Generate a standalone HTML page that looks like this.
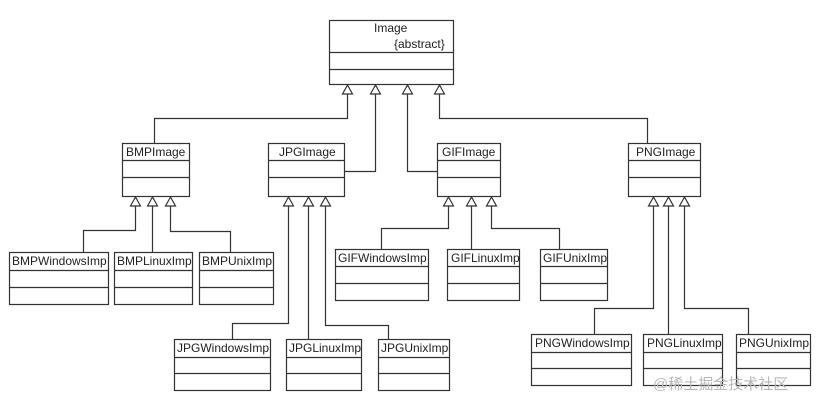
<!DOCTYPE html>
<html><head><meta charset="utf-8"><style>
html,body{margin:0;padding:0;background:#fff;}
svg{display:block;}
text{font-family:"Liberation Sans",Arial,sans-serif;font-size:12px;fill:#222;}
</style></head><body>
<svg width="821" height="406" viewBox="0 0 821 406" xmlns="http://www.w3.org/2000/svg">
<defs>
<marker id="tri" viewBox="0 0 10 10" refX="5" refY="0" markerWidth="10" markerHeight="10" markerUnits="userSpaceOnUse" orient="auto-start-reverse"></marker>
</defs>
<g fill="none" stroke="#333" stroke-width="1.2">
<!-- Image -->
<rect x="329.5" y="20.5" width="124" height="64"/>
<line x1="329" y1="52.5" x2="453" y2="52.5"/><line x1="329" y1="69.5" x2="453" y2="69.5"/>
<!-- level 1 boxes -->
<rect x="122.5" y="143.5" width="67" height="53"/><line x1="122" y1="160.5" x2="189" y2="160.5"/><line x1="122" y1="177.5" x2="189" y2="177.5"/>
<rect x="268.5" y="143.5" width="76" height="53"/><line x1="268" y1="160.5" x2="344" y2="160.5"/><line x1="268" y1="177.5" x2="344" y2="177.5"/>
<rect x="437.5" y="143.5" width="63" height="53"/><line x1="437" y1="160.5" x2="500" y2="160.5"/><line x1="437" y1="177.5" x2="500" y2="177.5"/>
<rect x="628.5" y="143.5" width="72" height="53"/><line x1="628" y1="160.5" x2="700" y2="160.5"/><line x1="628" y1="177.5" x2="700" y2="177.5"/>
<!-- connectors level1 -->
<polyline points="347.5,94 347.5,118.5 154.5,118.5 154.5,143"/>
<polyline points="375.5,94 375.5,171.5 344,171.5"/>
<polyline points="407.5,94 407.5,171.5 437,171.5"/>
<polyline points="439.5,94 439.5,118.5 647.5,118.5 647.5,143"/>
<!-- BMP children -->
<rect x="9.5" y="252.5" width="99" height="52"/><line x1="9" y1="270.5" x2="108" y2="270.5"/><line x1="9" y1="287.5" x2="108" y2="287.5"/>
<rect x="114.5" y="252.5" width="78" height="52"/><line x1="114" y1="270.5" x2="192" y2="270.5"/><line x1="114" y1="287.5" x2="192" y2="287.5"/>
<rect x="199.5" y="252.5" width="74" height="52"/><line x1="199" y1="270.5" x2="273" y2="270.5"/><line x1="199" y1="287.5" x2="273" y2="287.5"/>
<polyline points="135.5,206 135.5,230.5 83.5,230.5 83.5,252"/>
<polyline points="152.5,206 152.5,252"/>
<polyline points="170.5,206 170.5,231.5 230.5,231.5 230.5,252"/>
<!-- JPG children -->
<rect x="174.5" y="339.5" width="96" height="51"/><line x1="174" y1="357.5" x2="270" y2="357.5"/><line x1="174" y1="373.5" x2="270" y2="373.5"/>
<rect x="286.5" y="339.5" width="75" height="51"/><line x1="286" y1="357.5" x2="361" y2="357.5"/><line x1="286" y1="373.5" x2="361" y2="373.5"/>
<rect x="378.5" y="339.5" width="71" height="51"/><line x1="378" y1="357.5" x2="449" y2="357.5"/><line x1="378" y1="373.5" x2="449" y2="373.5"/>
<polyline points="288.5,206 288.5,323.5 232.5,323.5 232.5,339"/>
<polyline points="308.5,206 308.5,339"/>
<polyline points="325.5,206 325.5,325.5 388.5,325.5 388.5,339"/>
<!-- GIF children -->
<rect x="335.5" y="249.5" width="93" height="51"/><line x1="335" y1="266.5" x2="428" y2="266.5"/><line x1="335" y1="283.5" x2="428" y2="283.5"/>
<rect x="447.5" y="249.5" width="72" height="51"/><line x1="447" y1="266.5" x2="519" y2="266.5"/><line x1="447" y1="283.5" x2="519" y2="283.5"/>
<rect x="540.5" y="249.5" width="67" height="51"/><line x1="540" y1="266.5" x2="607" y2="266.5"/><line x1="540" y1="283.5" x2="607" y2="283.5"/>
<polyline points="448.5,206 448.5,228.5 381.5,228.5 381.5,249"/>
<polyline points="471.5,206 471.5,249"/>
<polyline points="491.5,206 491.5,228.5 559.5,228.5 559.5,249"/>
<!-- PNG children -->
<rect x="531.5" y="334.5" width="100" height="51"/><line x1="531" y1="352.5" x2="631" y2="352.5"/><line x1="531" y1="368.5" x2="631" y2="368.5"/>
<rect x="643.5" y="334.5" width="79" height="51"/><line x1="643" y1="352.5" x2="722" y2="352.5"/><line x1="643" y1="368.5" x2="722" y2="368.5"/>
<rect x="736.5" y="334.5" width="74" height="51"/><line x1="736" y1="352.5" x2="810" y2="352.5"/><line x1="736" y1="368.5" x2="810" y2="368.5"/>
<polyline points="653.5,206 653.5,308.5 594.5,308.5 594.5,334"/>
<polyline points="668.5,206 668.5,334"/>
<polyline points="684.5,206 684.5,308.5 748.5,308.5 748.5,334"/>
</g>
<!-- arrowheads -->
<g fill="#fff" stroke="#333" stroke-width="1.2">
<polygon points="347.5,85 342.5,94 352.5,94"/>
<polygon points="375.5,85 370.5,94 380.5,94"/>
<polygon points="407.5,85 402.5,94 412.5,94"/>
<polygon points="439.5,85 434.5,94 444.5,94"/>
<polygon points="135.5,197 130.5,206 140.5,206"/>
<polygon points="152.5,197 147.5,206 157.5,206"/>
<polygon points="170.5,197 165.5,206 175.5,206"/>
<polygon points="288.5,197 283.5,206 293.5,206"/>
<polygon points="308.5,197 303.5,206 313.5,206"/>
<polygon points="325.5,197 320.5,206 330.5,206"/>
<polygon points="448.5,197 443.5,206 453.5,206"/>
<polygon points="471.5,197 466.5,206 476.5,206"/>
<polygon points="491.5,197 486.5,206 496.5,206"/>
<polygon points="653.5,197 648.5,206 658.5,206"/>
<polygon points="668.5,197 663.5,206 673.5,206"/>
<polygon points="684.5,197 679.5,206 689.5,206"/>
</g>
<text x="374" y="32">Image</text>
<text x="394" y="48">{abstract}</text>
<text x="126" y="156">BMPImage</text>
<text x="279" y="156">JPGImage</text>
<text x="442" y="156">GIFImage</text>
<text x="636" y="156">PNGImage</text>
<text x="12" y="265">BMPWindowsImp</text>
<text x="117" y="265">BMPLinuxImp</text>
<text x="202" y="265">BMPUnixImp</text>
<text x="177" y="352">JPGWindowsImp</text>
<text x="289" y="352">JPGLinuxImp</text>
<text x="381" y="352">JPGUnixImp</text>
<text x="338" y="262">GIFWindowsImp</text>
<text x="451" y="262">GIFLinuxImp</text>
<text x="543" y="262">GIFUnixImp</text>
<text x="535" y="347">PNGWindowsImp</text>
<text x="647" y="347">PNGLinuxImp</text>
<text x="739" y="347">PNGUnixImp</text>
<text x="653" y="389" style="font-size:15px;fill:#b8b8b8;font-family:'Liberation Sans','Noto Sans CJK SC',sans-serif;">@稀土掘金技术社区</text>
</svg>
</body></html>
